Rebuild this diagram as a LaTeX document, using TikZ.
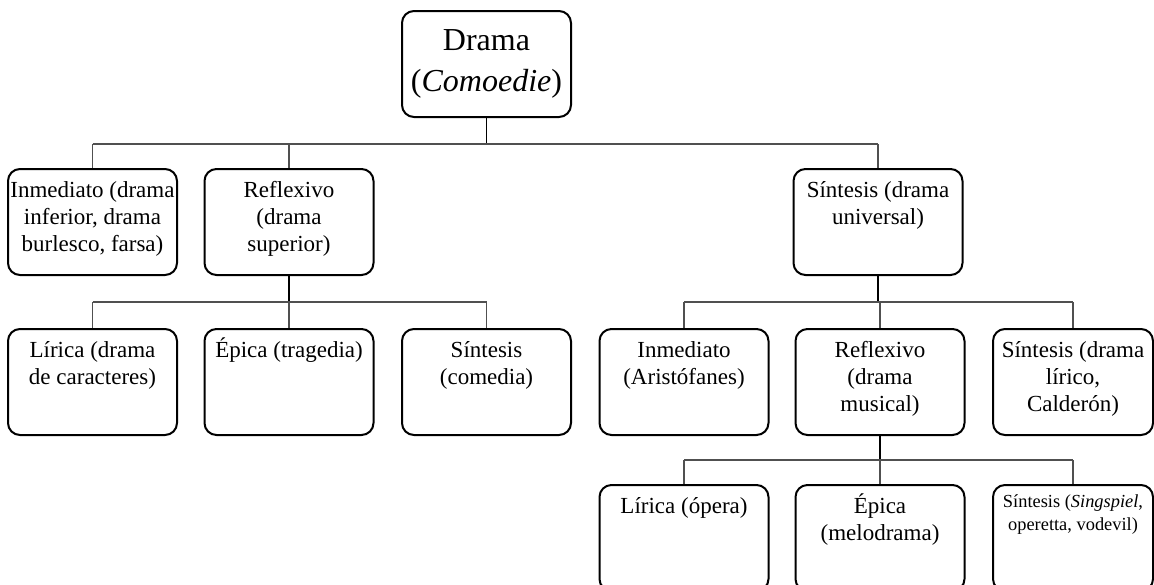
\documentclass[tikz,border=0pt]{standalone}
\usepackage{fontspec}
\setmainfont{Liberation Serif}
\usetikzlibrary{positioning}
\definecolor{ink}{HTML}{000000}
\definecolor{wire}{HTML}{505050}
\newcommand{\cell}[2][83pt]{\parbox[c][46pt][t]{#1}{\centering\rule{0pt}{10.5pt}#2}}
\newcommand{\smallcell}[2][79pt]{\parbox[c][46pt][t]{#1}{\centering\fontsize{9.2}{11.5}\selectfont\rule{0pt}{7.8pt}#2}}
\tikzset{
  genre/.style={
    draw=ink, line width=1pt, rounded corners=6pt, fill=white,
    minimum width=84.5pt, minimum height=53pt, inner sep=0pt,
    anchor=north, font=\fontsize{11.5}{13.7}\selectfont
  },
  rootbox/.style={genre, anchor=center, align=center, font=\fontsize{16}{20.5}\selectfont},
  narrow/.style={minimum width=80pt},
  link/.style={draw=wire, line width=0.6pt},
  stem/.style={draw=ink, line width=0.7pt}
}

\begin{document}
\begin{tikzpicture}[x=0.5pt,y=-0.5pt]
  \useasboundingbox (0,0) rectangle (1154,584);

  % root
  \node[rootbox] (drama) at (486.5,64) {Drama\\(\textit{Comoedie})};

  % first division
  \node[genre] (dInm) at (92.5,168) {\cell{Inmediato (drama\\inferior, drama\\burlesco, farsa)}};
  \node[genre] (dRefl) at (289,168) {\cell{Reflexivo\\(drama\\superior)}};
  \node[genre] (dSint) at (878,168) {\cell{Síntesis (drama\\universal)}};

  \draw[stem] (drama.south) -- (drama.south |- 0,144);
  \draw[link] (dInm.north |- 0,144) -- (dSint.north |- 0,144);
  \foreach \child in {dInm,dRefl,dSint} {
    \draw[link] (\child.north |- 0,144) -- (\child.north);
  }

  % drama superior
  \node[genre] (rLir) at (92.5,328) {\cell{Lírica (drama\\de caracteres)}};
  \node[genre] (rEpi) at (289,328) {\cell{Épica (tragedia)}};
  \node[genre] (rSint) at (486.5,328) {\cell{Síntesis\\(comedia)}};

  \draw[stem] (dRefl.south) -- (dRefl.south |- 0,302);
  \draw[link] (rLir.north |- 0,302) -- (rSint.north |- 0,302);
  \foreach \child in {rLir,rEpi,rSint} {
    \draw[link] (\child.north |- 0,302) -- (\child.north);
  }

  % drama universal
  \node[genre] (uInm) at (684,328) {\cell{Inmediato\\(Aristófanes)}};
  \node[genre] (uRefl) at (880,328) {\cell{Reflexivo\\(drama\\musical)}};
  \node[genre, narrow] (uSint) at (1073,328) {\cell[79pt]{Síntesis (drama\\lírico,\\Calderón)}};

  \draw[stem] (dSint.south) -- (dSint.south |- 0,302);
  \draw[link] (uInm.north |- 0,302) -- (uSint.north |- 0,302);
  \foreach \child in {uInm,uRefl,uSint} {
    \draw[link] (\child.north |- 0,302) -- (\child.north);
  }

  % drama musical
  \node[genre] (mLir) at (684,484) {\cell{Lírica (ópera)}};
  \node[genre] (mEpi) at (880,484) {\cell{Épica\\(melodrama)}};
  \node[genre, narrow] (mSint) at (1073,484) {\smallcell{Síntesis (\textit{Singspiel},\\operetta, vodevil)}};

  \draw[stem] (uRefl.south) -- (uRefl.south |- 0,460);
  \draw[link] (mLir.north |- 0,460) -- (mSint.north |- 0,460);
  \foreach \child in {mLir,mEpi,mSint} {
    \draw[link] (\child.north |- 0,460) -- (\child.north);
  }
\end{tikzpicture}
\end{document}
